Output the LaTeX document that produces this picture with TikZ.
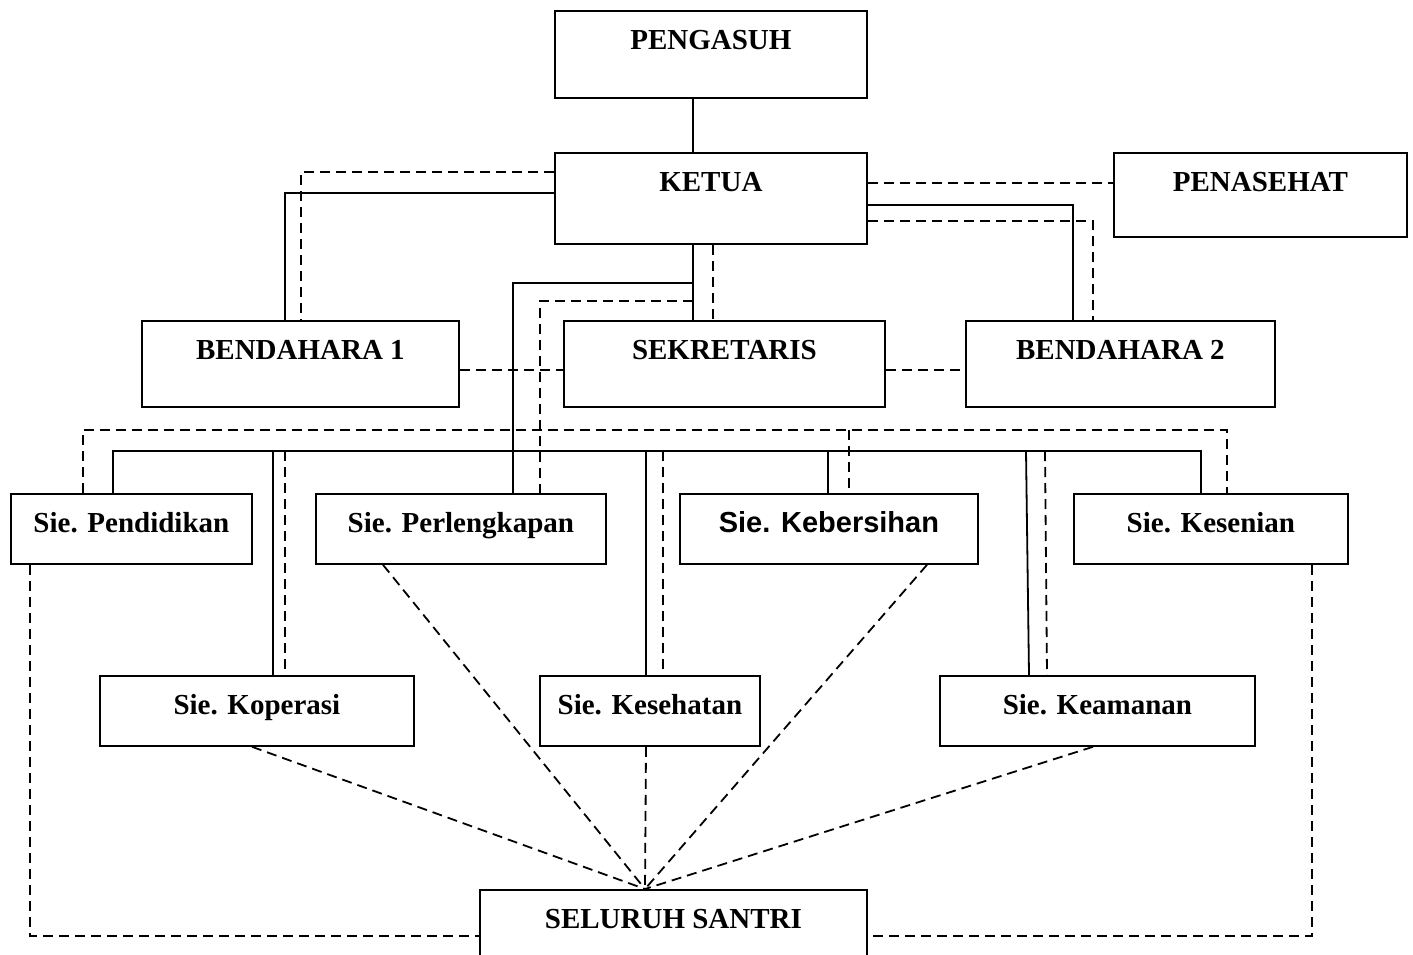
\documentclass[tikz,border=0pt]{standalone}
\usepackage{fontspec}
\setmainfont{Liberation Serif}
\newfontfamily\arialfont{Liberation Sans}
\usetikzlibrary{calc}
\tikzset{
  box/.style={draw, line width=1.8pt, inner sep=0pt, anchor=north west,
    text height=39pt, align=center,
    font=\fontsize{29}{34}\selectfont\bfseries},
  ln/.style={line width=1.8pt},
  dsh/.style={line width=1.8pt, dash pattern=on 10pt off 6pt},
}
\begin{document}
\begin{tikzpicture}[x=1pt,y=-1pt]
\useasboundingbox (0,0) rectangle (1413,955);
% boxes
\node[box, minimum width=312pt, text depth=48pt] (pengasuh) at (554,10) {PENGASUH};
\node[box, minimum width=312pt, text depth=52pt] (ketua) at (554,152) {KETUA};
\node[box, minimum width=293pt, text depth=45pt] (penasehat) at (1113,152) {PENASEHAT};
\node[box, minimum width=317pt, text depth=47pt] (bend1) at (141,320) {BENDAHARA 1};
\node[box, minimum width=321pt, text depth=47pt] (sekretaris) at (563,320) {SEKRETARIS};
\node[box, minimum width=309pt, text depth=47pt] (bend2) at (965,320) {BENDAHARA 2};
\node[box, minimum width=241pt, text depth=31pt] (pendidikan) at (10,493) {Sie. Pendidikan};
\node[box, minimum width=290pt, text depth=31pt] (perlengkapan) at (315,493) {Sie. Perlengkapan};
\node[box, minimum width=298pt, text depth=31pt, font=\fontsize{29}{34}\selectfont\arialfont\bfseries] (kebersihan) at (679,493) {Sie. Kebersihan};
\node[box, minimum width=274pt, text depth=31pt] (kesenian) at (1073,493) {Sie. Kesenian};
\node[box, minimum width=314pt, text depth=31pt] (koperasi) at (99,675) {Sie. Koperasi};
\node[box, minimum width=220pt, text depth=31pt] (kesehatan) at (539,675) {Sie. Kesehatan};
\node[box, minimum width=315pt, text depth=31pt] (keamanan) at (939,675) {Sie. Keamanan};
\node[box, minimum width=387pt, text depth=61pt] (seluruh) at (479,889) {SELURUH SANTRI};

% coordinates
\coordinate (pA) at ($(pengasuh.south west)+(139,0)$);
\coordinate (kA) at ($(ketua.north west)+(139,0)$);
\coordinate (kB) at ($(ketua.south west)+(139,0)$);
\coordinate (kC) at ($(ketua.south west)+(159,0)$);
\coordinate (sA) at ($(sekretaris.north west)+(130,0)$);
\coordinate (sB) at ($(sekretaris.north west)+(150,0)$);
\coordinate (j1) at ($(kB)+(0,38)$);
\coordinate (j2) at ($(kB)+(0,56)$);
\coordinate (perS) at ($(perlengkapan.north west)+(198,0)$);
\coordinate (perD) at ($(perlengkapan.north west)+(225,0)$);
\coordinate (kl1) at ($(ketua.north west)+(0,20)$);
\coordinate (kl2) at ($(ketua.north west)+(0,41)$);
\coordinate (b1D) at ($(bend1.north west)+(160,0)$);
\coordinate (b1S) at ($(bend1.north west)+(144,0)$);
\coordinate (kr1) at ($(ketua.north east)+(0,31)$);
\coordinate (pnL) at ($(penasehat.north west)+(0,31)$);
\coordinate (kr2) at ($(ketua.north east)+(0,53)$);
\coordinate (kr3) at ($(ketua.north east)+(0,69)$);
\coordinate (b2S) at ($(bend2.north west)+(108,0)$);
\coordinate (b2D) at ($(bend2.north west)+(128,0)$);
\coordinate (b1E) at ($(bend1.east)+(0,6)$);
\coordinate (sW) at ($(sekretaris.west)+(0,6)$);
\coordinate (sE) at ($(sekretaris.east)+(0,6)$);
\coordinate (b2W) at ($(bend2.west)+(0,6)$);
% buses
\coordinate (dbus) at (0,430);
\coordinate (sbus) at (0,451);
\coordinate (pdD) at ($(pendidikan.north west)+(73,0)$);
\coordinate (pdS) at ($(pendidikan.north west)+(103,0)$);
\coordinate (ksD) at ($(kesenian.north west)+(154,0)$);
\coordinate (ksS) at ($(kesenian.north west)+(128,0)$);
\coordinate (kbD) at ($(kebersihan.north west)+(170,0)$);
\coordinate (kbS) at ($(kebersihan.north west)+(149,0)$);
\coordinate (kpS) at ($(koperasi.north west)+(174,0)$);
\coordinate (kpD) at ($(koperasi.north west)+(186,0)$);
\coordinate (khS) at ($(kesehatan.north west)+(107,0)$);
\coordinate (khD) at ($(kesehatan.north west)+(124,0)$);
\coordinate (kmS) at ($(keamanan.north west)+(90,0)$);
\coordinate (kmD) at ($(keamanan.north west)+(108,0)$);
\coordinate (kmSt) at ($(keamanan.north west)+(87,-224)$);
\coordinate (kmDt) at ($(keamanan.north west)+(106,-224)$);
% bottom
\coordinate (pdB) at ($(pendidikan.south west)+(20,0)$);
\coordinate (ksB) at ($(kesenian.south west)+(239,0)$);
\coordinate (slL) at ($(seluruh.north west)+(0,47)$);
\coordinate (slR) at ($(seluruh.north east)+(0,47)$);
\coordinate (slT) at ($(seluruh.north west)+(166,0)$);
\coordinate (perB) at ($(perlengkapan.south west)+(68,0)$);
\coordinate (kpB) at ($(koperasi.south west)+(153,0)$);
\coordinate (khB) at ($(kesehatan.south west)+(107,0)$);
\coordinate (kbB) at ($(kebersihan.south west)+(248,0)$);
\coordinate (kmB) at ($(keamanan.south west)+(154,0)$);

% top connectors
\draw[ln] (pA) -- (kA);
\draw[dsh] (kl1) -| (b1D);
\draw[ln] (kl2) -| (b1S);
\draw[dsh] (kr1) -- (pnL);
\draw[ln] (kr2) -| (b2S);
\draw[dsh] (kr3) -| (b2D);
\draw[ln] (kB) -- (sA);
\draw[dsh] (kC) -- (sB);
\draw[ln] (j1) -| (perS);
\draw[dsh] (j2) -| (perD);
\draw[dsh] (b1E) -- (sW);
\draw[dsh] (sE) -- (b2W);

% buses
\draw[dsh] (pdD) |- (dbus -| ksD) -- (ksD);
\draw[dsh] (dbus -| kbD) -- (kbD);
\draw[ln] (pdS) |- (sbus -| ksS) -- (ksS);
\draw[ln] (sbus -| kbS) -- (kbS);
\draw[ln] (sbus -| kpS) -- (kpS);
\draw[dsh] (sbus -| kpD) -- (kpD);
\draw[ln] (sbus -| khS) -- (khS);
\draw[dsh] (sbus -| khD) -- (khD);
\draw[ln] (kmSt) -- (kmS);
\draw[dsh] (kmDt) -- (kmD);

% bottom
\draw[dsh] (pdB) |- (slL);
\draw[dsh] (ksB) |- (slR);
\draw[dsh] (perB) -- (slT);
\draw[dsh] (kpB) -- (slT);
\draw[dsh] (khB) -- (slT);
\draw[dsh] (kbB) -- (slT);
\draw[dsh] (kmB) -- (slT);
\end{tikzpicture}
\end{document}
